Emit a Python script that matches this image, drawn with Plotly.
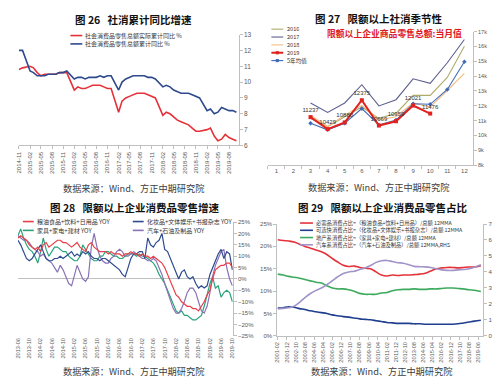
import plotly.graph_objects as go
import pandas as pd

W, H = 500, 379
def X(px): return px / W
def Y(py): return 1 - py / H

# ---------------- Chart 26 data ----------------
c26_dates = ["2014-11", "2014-12",
             "2015-02", "2015-03", "2015-04", "2015-05", "2015-06", "2015-07", "2015-08", "2015-09", "2015-10", "2015-11", "2015-12",
             "2016-02", "2016-03", "2016-04", "2016-05", "2016-06", "2016-07", "2016-08", "2016-09", "2016-10", "2016-11", "2016-12",
             "2017-02", "2017-03", "2017-04", "2017-05", "2017-06", "2017-07", "2017-08", "2017-09", "2017-10", "2017-11", "2017-12",
             "2018-02", "2018-03", "2018-04", "2018-05", "2018-06", "2018-07", "2018-08", "2018-09", "2018-10", "2018-11", "2018-12",
             "2019-02", "2019-03", "2019-04", "2019-05", "2019-06", "2019-07", "2019-08", "2019-09", "2019-10"]
c26_real = [10.8, 10.9,
            11.0, 10.9, 10.6, 10.4, 10.5, 10.5, 10.5, 10.5, 10.6, 10.6, 10.6,
            9.5, 9.7, 9.6, 9.6, 9.7, 9.8, 9.8, 9.8, 9.7, 9.6, 9.6,
            8.1, 8.8, 9.0, 9.1, 9.2, 9.3, 9.3, 9.3, 9.2, 9.1, 9.0,
            7.9, 8.1, 8.0, 7.8, 7.6, 7.5, 7.4, 7.3, 7.1, 6.9, 6.9,
            7.0, 7.1, 6.6, 6.3, 6.4, 6.7, 6.5, 6.4, 6.3]
c26_nominal = [12.0, 12.0,
               10.7, 10.6, 10.4, 10.4, 10.4, 10.5, 10.5, 10.5, 10.6, 10.6, 10.7,
               10.2, 10.3, 10.3, 10.2, 10.3, 10.3, 10.3, 10.4, 10.3, 10.4, 10.4,
               9.5, 10.0, 10.2, 10.3, 10.4, 10.4, 10.4, 10.4, 10.3, 10.3, 10.2,
               9.7, 9.8, 9.7, 9.5, 9.4, 9.3, 9.3, 9.3, 9.2, 9.1, 9.0,
               8.2, 8.3, 8.0, 8.1, 8.4, 8.3, 8.2, 8.2, 8.1]
c26_ticks = ["2014-11", "2015-02", "2015-05", "2015-08", "2015-11", "2016-02", "2016-05", "2016-08",
             "2016-11", "2017-02", "2017-05", "2017-08", "2017-11", "2018-02", "2018-05", "2018-08",
             "2018-11", "2019-02", "2019-05", "2019-08"]
c26_names = ["社会消费品零售总额实际累计同比 %", "社会消费品零售总额累计同比 %"]

# ---------------- Chart 27 data ----------------
c27_months = [str(i) for i in range(1, 13)]
c27_2016 = [11150, 10600, 11260, 11920, 11150, 11480, 12700, 12700, 13910, 16010]
c27_2017 = [12190, 11550, 12190, 13420, 11990, 12410, 13820, 13510, 14900, 16470]
c27_2018 = [11370, 10600, 11370, 12030, 11040, 11260, 12190, 11920, 13030, 14180]
c27_2019 = [11237, 10429, 10880, 12375, 10669, 10959, 12021, 11476]
c27_avg5 = [10820, 10380, 10820, 11810, 10710, 11040, 12140, 12100, 13100, 14970]
c27_names = ["2016", "2017", "2018", "2019", "5年均值"]

# ---------------- Chart 28 data (2013-06 .. 2019-10, monthly) ----------------
c28_dates = pd.date_range("2013-06-01", "2019-10-01", freq="MS")
c28_food = [18, 19, 18, 17, 15, 14, 13, 14, 12, 15, 16, 14,
            15, 16, 17, 17, 16, 16, 15, 14, 15, 16, 14, 13,
            12, 15, 16, 14, 13, 12, 12, 12, 11, 12, 11, 11,
            11, 10, 11, 11, 12, 11, 11, 10, 11, 10, 10, 9,
            10, 9, 8, 7, 5, 2, -1, -4, -7, -8, -10, -11,
            -12, -12, -13, -13, -14, -12, -10, -7, -5, 0, 4, 5,
            6, 6, 7, 7, 5]
c28_cosm = [17, 15, 12, 9, 8, 9, 11, 13, 15, 12, 9, 8,
            8, 9, 9, 10, 9, 10, 11, 12, 10, 11, 10, 12,
            11, 12, 10, 9, 9, 8, 9, 9, 8, 7, 6, 5,
            4, 2, 1, 5, 9, 11, 11, 12, 12, 9, 18, 15,
            14, 16, 17, 20, 13, 12, 9, 6, 3, 0, 3, 4,
            1, 0, 1, -2, -4, -3, -4, -3, 2, 5, 8, 11,
            13, 9, 12, 11, 4]
c28_home = [19, 22, 18, 15, 13, 12, 10, 7, 12, 18, 13, 10,
            12, 14, 14, 13, 12, 12, 10, 9, 8, 8, 10, 15,
            13, 11, 9, 8, 8, 10, 10, 12, 12, 11, 10, 10,
            9, 9, 10, 11, 11, 11, 10, 11, 10, 10, 9, 8,
            7, 5, 2, 0, -2, -5, -8, -11, -14, -15, -14, -16,
            -16, -17, -18, -18, -17, -16, -12, -7, -2, 1, -4, -3,
            -8, -6, -5, -6, -10]
c28_auto = [19, 18, 17, 17, 16, 14, 13, 12, 10, 11, 9, 8,
            7, 5, 3, 6, 4, 1, -2, -3, 2, 6, 3, 0,
            -1, 1, 14, 20, 14, 10, 8, 7, 7, 9, 10, 12,
            13, 12, 10, 10, 11, 12, 11, 10, 9, 9, 8, 8,
            9, 8, 5, 2, -2, -6, -10, -13, -15, -15, -13, -10,
            -6, -4, -4, -6, -10, -14, -15, -12, -6, 1, 6, 9,
            12, 13, 5, 0, -3]
c28_ticks = ["2013-06", "2013-10", "2014-02", "2014-06", "2014-10", "2015-02", "2015-06", "2015-10",
             "2016-02", "2016-06", "2016-10", "2017-02", "2017-06", "2017-10", "2018-02", "2018-06",
             "2018-10", "2019-02", "2019-06", "2019-10"]
c28_names = ["粮油食品+饮料+日用品 YOY", "化妆品+文体娱乐+书报杂志 YOY", "家具+家电+建材 YOY", "汽车+石油及制品 YOY"]

# ---------------- Chart 29 data (half-yearly samples of 12MMA shares) ----------------
c29_dates = [f"{y}-{m}" for y in range(2001, 2019 + 1) for m in ("02", "08")]
c29_dates[-1] = "2019-09"
c29_ess = [21.5, 21.3, 21.2, 21.0, 20.5, 20.0, 19.6, 19.2, 18.8, 18.2, 17.3, 16.5, 15.8, 15.5,
           15.6, 15.3, 15.1, 15.0, 14.3, 13.6, 13.4, 13.6, 13.5, 13.6, 13.6, 13.7, 13.8, 14.0,
           14.5, 15.0, 15.2, 15.3, 15.3, 15.2, 15.3, 15.4, 15.4, 15.7]
c29_opt = [6.2, 6.3, 6.5, 6.4, 6.1, 5.9, 5.6, 5.4, 5.2, 5.0, 4.7, 4.5, 4.3, 4.2,
           4.0, 3.8, 3.7, 3.6, 3.4, 3.2, 3.0, 2.9, 2.8, 2.8, 2.8, 2.7, 2.7, 2.6,
           2.6, 2.6, 2.6, 2.6, 2.6, 2.7, 2.9, 3.1, 3.3, 3.5]
c29_prop = [13.8, 13.6, 13.3, 13.1, 12.9, 12.6, 12.3, 12.0, 11.8, 11.2, 10.7, 10.5, 10.5, 10.3,
            10.0, 9.5, 9.3, 9.3, 9.3, 9.6, 9.7, 10.1, 10.3, 10.4, 10.4, 10.5, 10.4, 10.4,
            10.5, 10.5, 10.6, 10.7, 10.7, 10.6, 10.5, 10.3, 10.2, 9.9]
c29_auto = [16.8, 17.2, 17.6, 18.5, 21.0, 24.0, 26.5, 28.5, 30.0, 32.0, 34.5, 37.0, 39.0, 40.0,
            40.5, 41.5, 42.5, 44.0, 46.0, 47.0, 47.2, 46.5, 45.8, 45.5, 44.5, 43.5, 43.3, 43.2,
            42.8, 42.0, 41.3, 41.0, 41.0, 41.3, 41.5, 42.0, 43.0, 44.5]
c29_ticks = ["2001-02", "2001-12", "2002-10", "2003-08", "2004-06", "2005-04", "2006-02", "2006-12",
             "2007-10", "2008-08", "2009-06", "2010-04", "2011-02", "2011-12", "2012-10", "2013-08",
             "2014-06", "2015-04", "2016-02", "2016-12", "2017-10", "2018-08", "2019-06"]
c29_names = ["必需品消费占比=（粮油食品+饮料+日用品）/总额 12MMA",
             "可选快消费占比=（化妆品+文体娱乐+书报杂志）/总额 12MMA",
             "地产系消费占比=（家具+家电+建材）/总额 12MMA",
             "汽车系消费占比=（汽车+石油及制品）/总额 12MMA,RHS"]

# ---------------- colours ----------------
RED = "#e5323a"
NAVY = "#2e4a8c"
C27 = {"2016": "#aeab6a", "2017": "#5d5f8e", "2018": "#f6bd86", "2019": "#e0231f", "5年均值": "#3f6cb8"}
C28 = ["#e8404a", "#2e4b8f", "#2aa37c", "#8a72b5"]
C29 = ["#e5323a", "#1f3e8e", "#3daa5d", "#a294c9"]
AX = "#bfbfbf"
TF = dict(family="Liberation Sans, Arial", size=6, color="#595959")

fig = go.Figure()

# Chart 26
fig.add_trace(go.Scatter(x=c26_dates, y=c26_real, mode="lines", line=dict(color=RED, width=1.6),
                         xaxis="x", yaxis="y", showlegend=False))
fig.add_trace(go.Scatter(x=c26_dates, y=c26_nominal, mode="lines", line=dict(color=NAVY, width=1.6),
                         xaxis="x", yaxis="y", showlegend=False))

# Chart 27
for name, vals in [("2016", c27_2016), ("2018", c27_2018), ("2017", c27_2017)]:
    fig.add_trace(go.Scatter(x=c27_months[2:], y=vals, mode="lines", line=dict(color=C27[name], width=1.1),
                             xaxis="x2", yaxis="y2", showlegend=False))
fig.add_trace(go.Scatter(x=c27_months[2:], y=c27_avg5, mode="lines+markers",
                         line=dict(color=C27["5年均值"], width=1.1),
                         marker=dict(symbol="diamond", size=3.5, color=C27["5年均值"]),
                         xaxis="x2", yaxis="y2", showlegend=False))
fig.add_trace(go.Scatter(x=c27_months[2:10], y=c27_2019, mode="lines+markers+text",
                         line=dict(color=C27["2019"], width=2),
                         marker=dict(symbol="square", size=4, color=C27["2019"]),
                         text=[str(v) for v in c27_2019], textposition="top center",
                         textfont=dict(family="Liberation Sans, Arial", size=6, color="#333333"),
                         xaxis="x2", yaxis="y2", showlegend=False, cliponaxis=False))

# Chart 28
for vals, col in zip([c28_home, c28_auto, c28_cosm, c28_food], [C28[2], C28[3], C28[1], C28[0]]):
    fig.add_trace(go.Scatter(x=c28_dates, y=vals, mode="lines", line=dict(color=col, width=1.2),
                             xaxis="x3", yaxis="y3", showlegend=False))

# Chart 29
for vals, col in zip([c29_ess, c29_opt, c29_prop], C29[:3]):
    fig.add_trace(go.Scatter(x=c29_dates, y=vals, mode="lines", line=dict(color=col, width=1.6, shape="spline"),
                             xaxis="x4", yaxis="y4", showlegend=False))
fig.add_trace(go.Scatter(x=c29_dates, y=c29_auto, mode="lines", line=dict(color=C29[3], width=1.6, shape="spline"),
                         xaxis="x4", yaxis="y5", showlegend=False))

common_x = dict(showgrid=False, zeroline=False, tickfont=TF, linecolor=AX, tickcolor=AX, ticklen=3)
common_y = dict(showgrid=False, tickfont=TF, linecolor=AX, tickcolor=AX, ticklen=3, showline=True, ticks="outside")

fig.update_layout(
    width=W, height=H, margin=dict(l=0, r=0, t=0, b=0),
    paper_bgcolor="white", plot_bgcolor="white",
    xaxis=dict(common_x, domain=[X(8), X(230)], anchor="y", type="date",
               range=["2014-11-01", "2019-10-20"], tickvals=c26_ticks, ticktext=c26_ticks,
               tickangle=-90, showline=True, ticks="outside"),
    yaxis=dict(common_y, domain=[Y(136), Y(23)], anchor="x", side="right", range=[6, 13], dtick=1,
               zeroline=False, tickfont=dict(TF, size=6.5)),
    xaxis2=dict(common_x, domain=[X(259.4), X(466.6)], anchor="y2", type="category",
                categoryorder="array", categoryarray=c27_months, range=[-0.5, 11.5],
                tickvals=c27_months, showline=True, ticks="outside", tickson="boundaries"),
    yaxis2=dict(common_y, domain=[Y(156), Y(20)], anchor="x2", side="right", range=[8000, 17000],
                dtick=1000, zeroline=False, tickfont=dict(TF, size=5.5)),
    xaxis3=dict(common_x, domain=[X(7), X(224)], anchor="y3", type="date",
                range=["2013-06-01", "2019-10-05"], tickvals=c28_ticks, ticktext=c28_ticks,
                tickangle=-90, showline=False, ticks="", tickfont=dict(TF, size=5.6)),
    yaxis3=dict(common_y, domain=[Y(330), Y(214)], anchor="x3", side="right", range=[-25, 25], dtick=5,
                ticksuffix="%", zeroline=True, zerolinecolor=AX, zerolinewidth=1),
    xaxis4=dict(common_x, domain=[X(269), X(477)], anchor="y4", type="date",
                range=["2001-01-20", "2019-11-20"], tickvals=c29_ticks, ticktext=c29_ticks,
                tickangle=-90, showline=True, ticks="outside", tickfont=dict(TF, size=5.6)),
    yaxis4=dict(common_y, domain=[Y(330), Y(216)], anchor="x4", side="left", range=[0, 25], dtick=5,
                ticksuffix="%", zeroline=False),
    yaxis5=dict(common_y, anchor="x4", overlaying="y4", side="right", range=[0, 70], dtick=10,
                ticksuffix="%", zeroline=False),
)

shapes = []
ann = []
TITLE_F = dict(family="Noto Sans CJK SC", size=10.5, color="#111111")
SRC_F = dict(family="Noto Sans CJK SC", size=9.2, color="#404040")

def text(x, y, s, font, xanchor="center"):
    ann.append(dict(x=X(x), y=Y(y), xref="paper", yref="paper", text=s, showarrow=False,
                    font=font, xanchor=xanchor, yanchor="middle", borderpad=0))

def seg(x0, x1, y, col, w):
    shapes.append(dict(type="line", xref="paper", yref="paper", x0=X(x0), x1=X(x1), y0=Y(y), y1=Y(y),
                       line=dict(color=col, width=w)))

# titles & sources
text(124, 8, "<b>图 26   社消累计同比增速</b>", TITLE_F)
text(371, 7, "<b>图 27   限额以上社消季节性</b>", TITLE_F)
text(125, 199, "<b>图 28   限额以上企业消费品零售增速</b>", TITLE_F)
text(375, 199, "<b>图 29   限额以上企业消费品零售占比</b>", TITLE_F)
for cx, cy in [(124, 179), (371, 178), (124, 366), (374, 366)]:
    text(cx, cy, "数据来源：Wind、方正中期研究院", SRC_F)

LEG_F = dict(family="Noto Sans CJK SC", size=6.0, color="#333333")
# chart 26 legend
for i, (nm, col) in enumerate(zip(c26_names, [RED, NAVY])):
    yy = 24 + 8.5 * i
    seg(60, 72, yy, col, 1.6)
    text(74, yy, nm, LEG_F, "left")

# chart 27 legend
for i, nm in enumerate(c27_names):
    yy = [17.5, 25.5, 33.5, 41.5, 49.5][i]
    seg(263, 275, yy, C27[nm], 2 if nm == "2019" else 1.1)
    if nm in ("2019", "5年均值"):
        r = 1.6
        shapes.append(dict(type="rect", xref="paper", yref="paper", x0=X(269 - r), x1=X(269 + r),
                           y0=Y(yy + r), y1=Y(yy - r), fillcolor=C27[nm], line=dict(width=0)))
    text(278, yy, nm, dict(LEG_F, size=5.6), "left")
text(387, 21.5, "<b>限额以上企业商品零售总额:当月值</b>",
     dict(family="Noto Sans CJK SC", size=8.8, color="#e0191e"))

# chart 28 legend
for (nm, col, x0, yy) in [(c28_names[0], C28[0], 12, 213.5), (c28_names[2], C28[2], 12, 222.5),
                          (c28_names[1], C28[1], 123, 213.5), (c28_names[3], C28[3], 123, 222.5)]:
    seg(x0, x0 + 11, yy, col, 1.6)
    text(x0 + 13, yy, nm, LEG_F, "left")

# chart 29 legend
for i, (nm, col) in enumerate(zip(c29_names, C29)):
    yy = 215 + 7.4 * i
    seg(292, 305, yy, col, 1.6)
    text(307, yy, nm, dict(LEG_F, size=5.3), "left")

fig.update_layout(shapes=shapes, annotations=ann)
fig.write_html("out.html")
